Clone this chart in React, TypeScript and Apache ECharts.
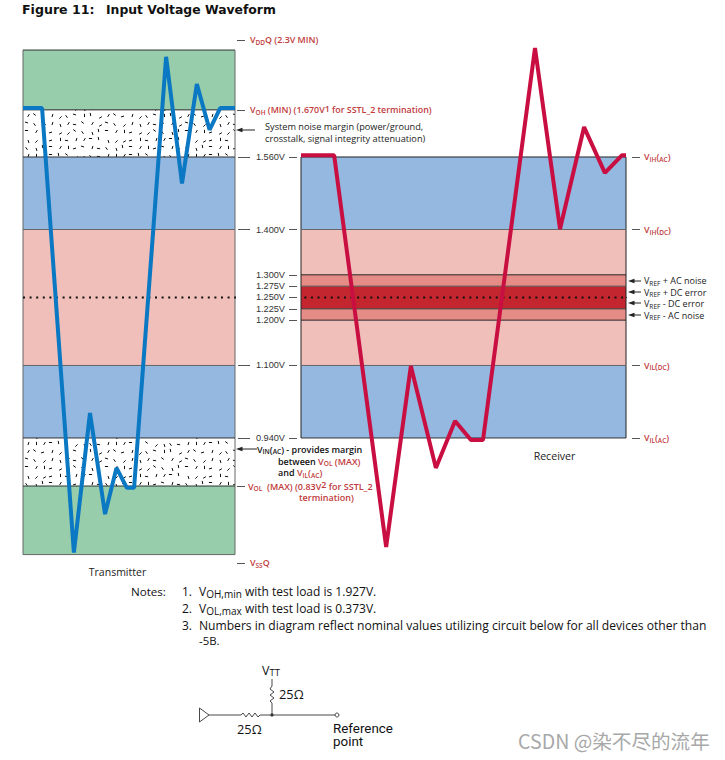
import React, { useEffect, useRef } from "react";
import * as echarts from "echarts";

// Shared voltage scale
const yMin = 0.6487;
const yMax = 1.8402;

// Transmitter waveform
const txTime = [0, 9, 24, 31.6, 38.7, 44.1, 49, 52.4, 67.5, 75, 82, 88, 93, 100];
const txVolts = [1.668, 1.668, 0.687, 0.995, 0.772, 0.874, 0.83, 0.83, 1.781, 1.5015, 1.721, 1.62, 1.668, 1.668];

// Receiver waveform
const rxTime = [0, 10.2, 26.2, 33.8, 41.5, 47.4, 52.3, 56, 72, 79.7, 87.1, 93.5, 98.8, 100];
const rxVolts = [1.564, 1.564, 0.6995, 1.099, 0.874, 0.9775, 0.9356, 0.9356, 1.8005, 1.401, 1.626, 1.525, 1.564, 1.564];

// Bands: [from, to, colour]
const GREEN = "#98cdab";
const BLUE = "#94b8e0";
const PINK = "#f0bfb9";
const MID = "#e58c86";
const DARK = "#c4262f";
const txBands: [number, number, string][] = [
  [1.664, 1.796, GREEN],
  [1.56, 1.664, "stipple"],
  [1.4, 1.56, BLUE],
  [1.1, 1.4, PINK],
  [0.94, 1.1, BLUE],
  [0.834, 0.94, "stipple"],
  [0.6827, 0.834, GREEN],
];
const rxBands: [number, number, string][] = [
  [1.4, 1.56, BLUE],
  [1.3, 1.4, PINK],
  [1.275, 1.3, MID],
  [1.225, 1.275, DARK],
  [1.2, 1.225, MID],
  [1.1, 1.2, PINK],
  [0.94, 1.1, BLUE],
];
const txRules: [number, string][] = [
  [1.796, "#333333"], [1.664, "#222222"], [1.56, "#333333"], [1.4, "#666666"],
  [1.1, "#666666"], [0.94, "#333333"], [0.834, "#333333"], [0.6827, "#666666"],
];
const rxRules: [number, string][] = [
  [1.56, "#222222"], [1.4, "#666666"], [1.3, "#222222"], [1.275, "#555555"],
  [1.225, "#333333"], [1.2, "#222222"], [1.1, "#666666"], [0.94, "#333333"],
];

// Tick labels
const voltTicks = [1.56, 1.4, 1.3, 1.275, 1.25, 1.225, 1.2, 1.1, 0.94];
const voltLabels = ["1.560V", "1.400V", "1.300V", "1.275V", "1.250V", "1.225V", "1.200V", "1.100V", "0.940V"];
const txNumTicks = [1.56, 1.4, 1.1, 0.94];
const txMarks = [1.8182, 1.664, 0.834, 0.6642];
const rxMarks = [1.56, 1.4, 1.1, 0.94];

const FONT = "'Open Sans', 'Noto Sans', sans-serif";
const RED = "#bf3a3c";

function makeStipple() {
  const c = document.createElement("canvas");
  c.width = 80;
  c.height = 48;
  const g = c.getContext("2d")!;
  g.fillStyle = "#ffffff";
  g.fillRect(0, 0, 80, 48);
  g.strokeStyle = "#111111";
  g.lineWidth = 1;
  const turns = [0.1, 0.5, 0.3, 0.75, 0.0, 0.6, 0.9, 0.4, 0.2, 0.67, 0.05, 0.83, 0.45];
  for (let i = 0; i < 10; i++) {
    for (let j = 0; j < 6; j++) {
      const h = (i * 5 + j * 7 + ((i * j) % 4) * 3) % 13;
      const cx = i * 8 + 2.5 + (h * 2) % 4;
      const cy = j * 8 + 2.5 + (h * 5) % 4;
      const a = turns[h] * Math.PI;
      g.beginPath();
      g.moveTo(cx - Math.cos(a) * 1.6, cy - Math.sin(a) * 1.6);
      g.lineTo(cx + Math.cos(a) * 1.6, cy + Math.sin(a) * 1.6);
      g.stroke();
    }
  }
  return c;
}

function bandSeries(bands: [number, number, string][], idx: number, yIdx: number, pattern: any) {
  return {
    type: "custom",
    xAxisIndex: idx,
    yAxisIndex: yIdx,
    coordinateSystem: "cartesian2d",
    silent: true,
    z: 1,
    clip: false,
    data: bands.map((b, i) => [0, b[0], b[1], i]),
    renderItem: (_p: any, api: any) => {
      const i = api.value(3);
      const b = bands[i];
      const a = api.coord([0, b[1]]);
      const z = api.coord([100, b[0]]);
      return {
        type: "rect",
        shape: { x: a[0], y: a[1], width: z[0] - a[0], height: z[1] - a[1] },
        style: { fill: b[2] === "stipple" ? pattern : b[2] },
      };
    },
  };
}

function ruleSeries(rules: [number, string][], idx: number, yIdx: number, edge: string) {
  return {
    type: "custom",
    xAxisIndex: idx,
    yAxisIndex: yIdx,
    coordinateSystem: "cartesian2d",
    silent: true,
    z: 2,
    clip: false,
    data: rules.map((r, i) => [0, r[0], i]),
    renderItem: (params: any, api: any) => {
      const i = api.value(2);
      const a = api.coord([0, rules[i][0]]);
      const z = api.coord([100, rules[i][0]]);
      const children: any[] = [
        { type: "line", shape: { x1: a[0], y1: a[1], x2: z[0], y2: z[1] }, style: { stroke: rules[i][1], lineWidth: 1 } },
      ];
      if (i === 0) {
        const l = api.coord([0, rules[rules.length - 1][0]]);
        const r = api.coord([100, rules[rules.length - 1][0]]);
        children.push({ type: "line", shape: { x1: l[0], y1: a[1], x2: l[0], y2: l[1] }, style: { stroke: edge, lineWidth: 1 } });
        children.push({ type: "line", shape: { x1: r[0], y1: a[1], x2: r[0], y2: r[1] }, style: { stroke: edge, lineWidth: 1 } });
      }
      return { type: "group", children };
    },
  };
}

function richFor(size: number, weight: any, colorKey: "color" | "fill") {
  const base = { fontFamily: FONT, fontWeight: weight, lineHeight: 12 };
  const mk = (s: number, col: string, extra: any = {}) => ({ ...base, fontSize: s, [colorKey]: col, ...extra });
  return {
    r: mk(size, RED),
    rs: mk(size - 2.4, RED, { verticalAlign: "bottom", lineHeight: 11.5 }),
    rsup: mk(size, RED, { verticalAlign: "top", lineHeight: 6 }),
    k: mk(size, "#111111"),
    ks: mk(size - 2.4, "#111111", { verticalAlign: "bottom", lineHeight: 11.5 }),
  };
}

const richAxis = richFor(8.9, 600, "color");
const richG = richFor(9, 600, "fill");
const richPlainG = {
  k: { fontFamily: FONT, fontWeight: 400, fontSize: 9, fill: "#222222", lineHeight: 12 },
  ks: { fontFamily: FONT, fontWeight: 400, fontSize: 6.6, fill: "#222222", verticalAlign: "bottom", lineHeight: 11.5 },
};
const noteRich = {
  n: { fontFamily: FONT, fontSize: 12, fill: "#111111", lineHeight: 15 },
  s: { fontFamily: FONT, fontSize: 10, fill: "#111111", verticalAlign: "bottom", lineHeight: 10 },
};

function gtext(x: number, y: number, text: string, opts: any = {}) {
  return {
    type: "text",
    x,
    y,
    silent: true,
    z: 10,
    style: {
      text,
      fontFamily: FONT,
      fontSize: 9,
      fill: "#222222",
      align: "left",
      verticalAlign: "middle",
      ...opts,
    },
  };
}

function arrow(x1: number, x2: number, y: number) {
  return [
    { type: "line", silent: true, z: 10, shape: { x1, y1: y, x2: x2 + 5, y2: y }, style: { stroke: "#222222", lineWidth: 1 } },
    { type: "polygon", silent: true, z: 10, shape: { points: [[x2, y], [x2 + 6.5, y - 2.2], [x2 + 6.5, y + 2.2]] }, style: { fill: "#222222" } },
  ];
}

function wline(points: number[][], w = 0.9, col = "#333333") {
  return { type: "polyline", silent: true, z: 10, shape: { points }, style: { stroke: col, fill: "none", lineWidth: w } };
}

export default function App() {
  const ref = useRef<HTMLDivElement>(null);
  useEffect(() => {
    document.body.style.margin = "0";
    const chart = echarts.init(ref.current!, undefined, { renderer: "svg" });
    const pattern = { image: makeStipple(), repeat: "repeat", imageWidth: 80, imageHeight: 48 };
    const hiddenX = (i: number) => ({ type: "value", gridIndex: i, min: 0, max: 100, show: false });
    const axisCommon = { type: "value", min: yMin, max: yMax, splitLine: { show: false }, axisLine: { show: false, onZero: false } };
    const tick = (len: number, vals: number[]) => ({ show: true, length: len, customValues: vals, lineStyle: { color: "#555555", width: 1 } });

    const option: any = {
      animation: false,
      backgroundColor: "#ffffff",
      grid: [
        { left: 23, width: 212, top: 30, height: 540 },
        { left: 301, width: 325, top: 30, height: 540 },
        { left: 23, width: 212, top: 30, height: 540 },
      ],
      xAxis: [hiddenX(0), hiddenX(1), hiddenX(2)],
      yAxis: [
        {
          ...axisCommon,
          gridIndex: 0,
          position: "right",
          offset: 2,
          axisTick: tick(8, txMarks),
          axisLabel: {
            show: true,
            margin: 13,
            customValues: [txMarks[0], txMarks[1], txMarks[3]],
            rich: richAxis,
            formatter: (v: number) => {
              if (Math.abs(v - txMarks[0]) < 1e-6) return "{r|V}{rs|DD}{r|Q (2.3V MIN)}";
              if (Math.abs(v - txMarks[1]) < 1e-6) return "{r|V}{rs|OH}{r| (MIN) (1.670V}{rsup|1}{r| for SSTL_2 termination)}";
              return "{r|V}{rs|SS}{r|Q}";
            },
          },
        },
        {
          ...axisCommon,
          gridIndex: 1,
          position: "left",
          offset: 4,
          axisTick: tick(8, voltTicks),
          axisLabel: {
            show: true,
            margin: 12,
            customValues: voltTicks,
            fontFamily: "'Liberation Sans', sans-serif",
            fontSize: 9.2,
            color: "#333333",
            formatter: (v: number) => voltLabels[voltTicks.findIndex((t) => Math.abs(t - v) < 1e-6)],
          },
        },
        {
          ...axisCommon,
          gridIndex: 1,
          position: "right",
          offset: 6,
          axisTick: tick(8, rxMarks),
          axisLabel: {
            show: true,
            margin: 12,
            customValues: rxMarks,
            rich: richAxis,
            formatter: (v: number) => {
              if (Math.abs(v - 1.56) < 1e-6) return "{r|V}{rs|IH}{r|(}{rs|AC}{r|)}";
              if (Math.abs(v - 1.4) < 1e-6) return "{r|V}{rs|IH}{r|(}{rs|DC}{r|)}";
              if (Math.abs(v - 1.1) < 1e-6) return "{r|V}{rs|IL}{r|(}{rs|DC}{r|)}";
              return "{r|V}{rs|IL}{r|(}{rs|AC}{r|)}";
            },
          },
        },
        {
          ...axisCommon,
          gridIndex: 2,
          position: "right",
          offset: 3,
          axisTick: tick(12, txNumTicks),
          axisLabel: { show: false },
        },
      ],
      series: [
        bandSeries(txBands, 0, 0, pattern),
        ruleSeries(txRules, 0, 0, "#666666"),
        bandSeries(rxBands, 1, 1, pattern),
        ruleSeries(rxRules, 1, 1, "#222222"),
        {
          type: "line",
          xAxisIndex: 0,
          yAxisIndex: 0,
          z: 3,
          clip: false,
          symbol: "none",
          lineStyle: { color: "#111111", width: 2, type: [2, 4.6] },
          data: [[0, 1.25], [107, 1.25]],
        },
        {
          type: "line",
          xAxisIndex: 1,
          yAxisIndex: 1,
          z: 3,
          clip: false,
          symbol: "none",
          lineStyle: { color: "#111111", width: 2, type: [2, 4.6] },
          data: [[-1, 1.25], [100, 1.25]],
        },
        {
          type: "line",
          xAxisIndex: 1,
          yAxisIndex: 1,
          z: 3,
          clip: false,
          symbol: "none",
          lineStyle: { color: "#111111", width: 0.8, type: [3, 2] },
          data: [[100, 1.25], [124.9, 1.25]],
        },
        {
          type: "line",
          xAxisIndex: 0,
          yAxisIndex: 0,
          z: 5,
          clip: false,
          symbol: "none",
          lineStyle: { color: "#0a78c2", width: 4, join: "bevel" },
          data: txTime.map((t, i) => [t, txVolts[i]]),
        },
        {
          type: "line",
          xAxisIndex: 1,
          yAxisIndex: 1,
          z: 5,
          clip: false,
          symbol: "none",
          lineStyle: { color: "#c90f42", width: 4, join: "bevel" },
          data: rxTime.map((t, i) => [t, rxVolts[i]]),
        },
      ],
      graphic: [
        gtext(22, 9, "Figure 11:", { fontFamily: "'DejaVu Sans', sans-serif", fontSize: 12.6, fontWeight: 700, fill: "#111111" }),
        gtext(106, 9, "Input Voltage Waveform", { fontFamily: "'DejaVu Sans', sans-serif", fontSize: 12.4, fontWeight: 700, fill: "#111111" }),

        gtext(265, 126.5, "System noise margin (power/ground,", { fontSize: 9.2, fill: "#222222" }),
        gtext(265, 138.5, "crosstalk, signal integrity attenuation)", { fontSize: 9.2, fill: "#222222" }),
        ...arrow(255, 236, 130),
        ...arrow(257, 236, 449),
        gtext(257, 449, "{k|V}{ks|IN}{k|(}{ks|AC}{k|) - provides margin}", { rich: richG }),
        gtext(278, 461, "{k|between }{r|V}{rs|OL}{r| (MAX)}", { rich: richG }),
        gtext(278, 472.5, "{k|and }{r|V}{rs|IL}{r|(}{rs|AC}{r|)}", { rich: richG }),
        gtext(248, 486, "{r|V}{rs|OL}{r|  (MAX) (0.83V}{rsup|2}{r| for SSTL_2}", { rich: richG }),
        gtext(299, 497.5, "{r|termination)}", { rich: richG }),

        gtext(117.5, 572, "Transmitter", { fontSize: 10.5, align: "center" }),
        gtext(554.5, 456, "Receiver", { fontSize: 10.6, align: "center" }),

        ...arrow(641, 628, 281),
        ...arrow(641, 628, 292),
        ...arrow(641, 628, 303),
        ...arrow(641, 628, 315),
        gtext(644, 280.5, "{k|V}{ks|REF}{k| + AC noise}", { rich: richPlainG }),
        gtext(644, 292, "{k|V}{ks|REF}{k| + DC error}", { rich: richPlainG }),
        gtext(644, 303.5, "{k|V}{ks|REF}{k| - DC error}", { rich: richPlainG }),
        gtext(644, 315, "{k|V}{ks|REF}{k| - AC noise}", { rich: richPlainG }),

        gtext(131, 591, "Notes:", { fontSize: 11.6, fill: "#111111" }),
        gtext(182, 591, "1.", { fontSize: 12, fill: "#111111" }),
        gtext(182, 608, "2.", { fontSize: 12, fill: "#111111" }),
        gtext(182, 625, "3.", { fontSize: 12, fill: "#111111" }),
        gtext(199, 591, "{n|V}{s|OH,min}{n| with test load is 1.927V.}", { rich: noteRich }),
        gtext(199, 608, "{n|V}{s|OL,max}{n| with test load is 0.373V.}", { rich: noteRich }),
        gtext(199, 625, "Numbers in diagram reflect nominal values utilizing circuit below for all devices other than", { fontSize: 12.1, fill: "#111111" }),
        gtext(199, 640, "-5B.", { fontSize: 11.4, fill: "#111111" }),

        // Circuit
        { type: "polygon", silent: true, z: 10, shape: { points: [[199.5, 708], [209, 715], [199.5, 722]] }, style: { fill: "#ffffff", stroke: "#333333", lineWidth: 0.9 } },
        wline([[209, 715], [241, 715], [243, 713], [246, 717], [249, 713], [252, 717], [255, 713], [258, 717], [260, 715], [335, 715]]),
        wline([[272, 715], [272, 703], [270, 701], [274, 698], [270, 695], [274, 692], [270, 689], [272, 686], [272, 679]]),
        { type: "circle", silent: true, z: 10, shape: { cx: 272, cy: 715, r: 1.6 }, style: { fill: "#333333" } },
        { type: "circle", silent: true, z: 10, shape: { cx: 337, cy: 715, r: 2 }, style: { fill: "#ffffff", stroke: "#333333", lineWidth: 0.9 } },
        gtext(262, 670, "{n|V}{t|TT}", {
          rich: {
            n: { fontFamily: FONT, fontSize: 12.5, fill: "#111111", lineHeight: 14 },
            t: { fontFamily: FONT, fontSize: 9.5, fill: "#111111", verticalAlign: "bottom", lineHeight: 13.5 },
          },
        }),
        gtext(279, 694, "25Ω", { fontSize: 12.8, fill: "#111111" }),
        gtext(237, 729, "25Ω", { fontSize: 12.8, fill: "#111111" }),
        gtext(333, 728, "Reference", { fontFamily: "Roboto, sans-serif", fontSize: 13.4, fill: "#111111" }),
        gtext(333, 741.5, "point", { fontFamily: "Roboto, sans-serif", fontSize: 13.4, fill: "#111111" }),

        gtext(518, 740, "CSDN @染不尽的流年", { fontFamily: "'Noto Sans CJK SC', sans-serif", fontSize: 19.6, fill: "#a8a8a8" }),
      ],
    };
    chart.setOption(option);
    return () => chart.dispose();
  }, []);
  return <div ref={ref} style={{ position: "absolute", left: 0, top: 0, width: 725, height: 760 }} />;
}
